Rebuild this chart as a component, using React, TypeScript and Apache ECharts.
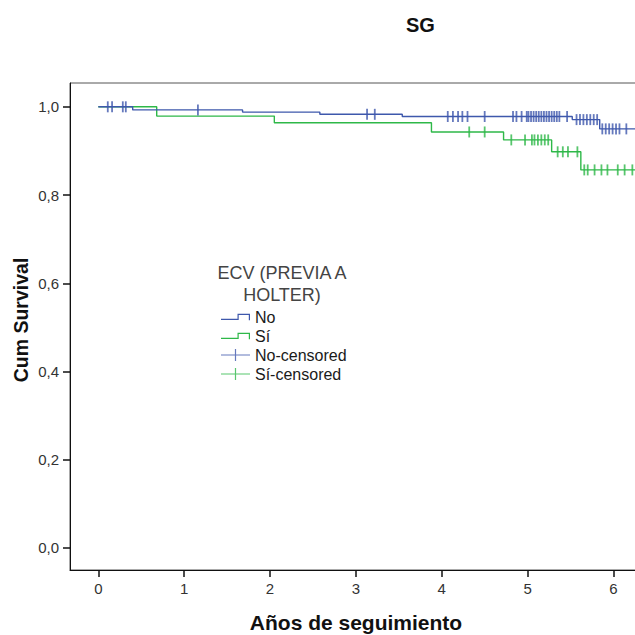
import React, { useEffect, useRef } from "react";
import * as echarts from "echarts";

// Kaplan–Meier step data (time in years, cumulative survival)
const noTimes = [0, 0.4, 1.68, 2.58, 3.54, 5.52, 5.84, 6.4];
const noSurv = [1.0, 0.993, 0.988, 0.983, 0.978, 0.971, 0.95, 0.95];
const siTimes = [0, 0.68, 2.05, 3.88, 4.72, 5.28, 5.62, 6.4];
const siSurv = [1.0, 0.979, 0.964, 0.943, 0.925, 0.898, 0.857, 0.857];

// Censored observation times
const noCensored = [
  0.11, 0.16, 0.285, 0.32, 1.16, 3.13, 3.22, 4.07, 4.13, 4.19, 4.24, 4.3, 4.5,
  4.83, 4.87, 4.93, 4.99, 5.01, 5.04, 5.07, 5.1, 5.13, 5.16, 5.19, 5.22, 5.25,
  5.28, 5.31, 5.34, 5.37, 5.46, 5.57, 5.61, 5.65, 5.69, 5.73, 5.77, 5.81,
  5.87, 5.91, 5.95, 5.99, 6.03, 6.07, 6.15,
];
const siCensored = [
  4.32, 4.5, 4.81, 4.97, 5.05, 5.08, 5.12, 5.16, 5.2, 5.24, 5.35, 5.41, 5.47,
  5.58, 5.66, 5.7, 5.78, 5.86, 5.93, 6.05, 6.13, 6.22,
];

const xTicks = [0, 1, 2, 3, 4, 5, 6];
const yTicks = [0, 0.2, 0.4, 0.6, 0.8, 1.0];

const seriesNames = ["No", "Sí", "No-censored", "Sí-censored"];

const BLUE = "#3e58ac";
const GREEN = "#2eb848";
const FONT = "'Liberation Sans', Arial, sans-serif";

const survAt = (times: number[], surv: number[], t: number) => {
  let v = surv[0];
  for (let i = 0; i < times.length; i++) {
    if (times[i] <= t) v = surv[i];
  }
  return v;
};

const stepIcon =
  "path://M0,5L16.5,5L16.5,0L29,0L29,6.5L27.8,6.5L27.8,1.2L17.7,1.2L17.7,6.2L0,6.2Z";
const crossIcon =
  "path://M0,5.4L13.9,5.4L13.9,0L15.1,0L15.1,5.4L29,5.4L29,6.6L15.1,6.6L15.1,12L13.9,12L13.9,6.6L0,6.6Z";

export default function App() {
  const ref = useRef<HTMLDivElement>(null);

  useEffect(() => {
    if (!ref.current) return;
    const chart = echarts.init(ref.current, undefined, { renderer: "svg" });

    const noLine = noTimes.map((t, i) => [t, noSurv[i]]);
    const siLine = siTimes.map((t, i) => [t, siSurv[i]]);
    const noCens = noCensored.map((t) => [t, survAt(noTimes, noSurv, t)]);
    const siCens = siCensored.map((t) => [t, survAt(siTimes, siSurv, t)]);

    chart.setOption({
      animation: false,
      backgroundColor: "#ffffff",
      grid: {
        left: 70,
        top: 83,
        width: 698,
        height: 487,
        show: true,
        borderColor: "#555",
        borderWidth: 1,
        backgroundColor: "transparent",
      },
      xAxis: {
        type: "value",
        min: -0.33,
        max: 7.8,
        splitLine: { show: false },
        axisLine: { show: true, onZero: false, lineStyle: { color: "#111", width: 1 } },
        axisTick: {
          show: true,
          customValues: xTicks,
          length: 7,
          lineStyle: { color: "#111", width: 1.5 },
        },
        axisLabel: {
          customValues: xTicks,
          margin: 11,
          color: "#333",
          fontSize: 15,
          fontFamily: FONT,
          formatter: (v: number) => String(v),
        },
      },
      yAxis: {
        type: "value",
        min: -0.05,
        max: 1.054,
        splitLine: { show: false },
        axisLine: { show: true, onZero: false, lineStyle: { color: "#111", width: 1 } },
        axisTick: {
          show: true,
          customValues: yTicks,
          length: 7,
          lineStyle: { color: "#111", width: 1.5 },
        },
        axisLabel: {
          customValues: yTicks,
          margin: 11,
          color: "#333",
          fontSize: 15,
          fontFamily: FONT,
          formatter: (v: number) => v.toFixed(1).replace(".", ","),
        },
      },
      legend: {
        orient: "vertical",
        left: 221,
        top: 309,
        padding: 0,
        itemGap: 3,
        itemWidth: 29,
        itemHeight: 12,
        textStyle: { fontSize: 16, fontFamily: FONT, color: "#1a1a1a", lineHeight: 16 },
        itemStyle: { borderWidth: 0 },
        data: [
          { name: seriesNames[0], icon: stepIcon },
          { name: seriesNames[1], icon: stepIcon },
          { name: seriesNames[2], icon: crossIcon },
          { name: seriesNames[3], icon: crossIcon },
        ],
      },
      graphic: [
        {
          type: "text",
          left: 406,
          top: 15,
          style: {
            text: "SG",
            fontSize: 20,
            fontWeight: "bold",
            fontFamily: FONT,
            fill: "#111",
          },
        },
        {
          type: "text",
          x: 282,
          y: 262,
          style: {
            text: "ECV (PREVIA A\nHOLTER)",
            fontSize: 18,
            lineHeight: 22,
            fontFamily: FONT,
            fill: "#444",
            textAlign: "center",
          },
        },
        {
          type: "text",
          x: 356,
          y: 612,
          style: {
            text: "Años de seguimiento",
            fontSize: 21,
            fontWeight: "bold",
            fontFamily: FONT,
            fill: "#111",
            textAlign: "center",
          },
        },
        {
          type: "text",
          x: 11,
          y: 320,
          rotation: Math.PI / 2,
          style: {
            text: "Cum Survival",
            fontSize: 19.5,
            fontWeight: "bold",
            fontFamily: FONT,
            fill: "#111",
            textAlign: "center",
            textVerticalAlign: "top",
          },
        },
      ],
      series: [
        {
          name: seriesNames[1],
          type: "line",
          step: "end",
          showSymbol: false,
          color: GREEN,
          lineStyle: { color: GREEN, width: 1.4 },
          data: siLine,
          z: 2,
        },
        {
          name: seriesNames[0],
          type: "line",
          step: "end",
          showSymbol: false,
          color: BLUE,
          lineStyle: { color: BLUE, width: 1.4 },
          data: noLine,
          z: 3,
        },
        {
          name: seriesNames[3],
          type: "scatter",
          symbol: "rect",
          symbolSize: [1.8, 11],
          color: GREEN,
          itemStyle: { color: GREEN },
          data: siCens,
          z: 4,
        },
        {
          name: seriesNames[2],
          type: "scatter",
          symbol: "rect",
          symbolSize: [1.8, 11],
          color: BLUE,
          itemStyle: { color: BLUE },
          data: noCens,
          z: 5,
        },
      ],
    });

    return () => chart.dispose();
  }, []);

  return (
    <div
      style={{
        position: "absolute",
        left: 0,
        top: 0,
        width: 635,
        height: 635,
        overflow: "hidden",
        background: "#fff",
      }}
    >
      <div ref={ref} style={{ width: 800, height: 635 }} />
    </div>
  );
}
